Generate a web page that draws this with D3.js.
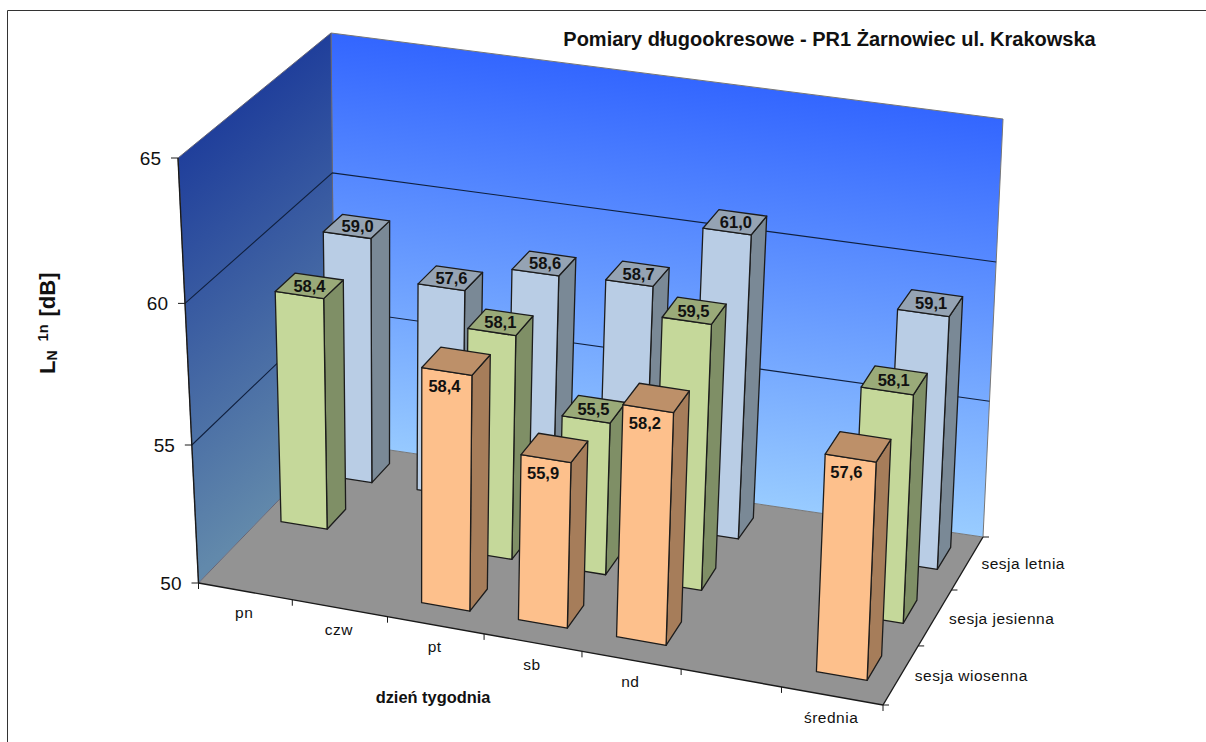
<!DOCTYPE html>
<html lang="pl">
<head>
<meta charset="utf-8">
<script src="https://cdn.jsdelivr.net/npm/d3@7/dist/d3.min.js"></script>
<style>
html,body{margin:0;padding:0;background:#fff}
svg{display:block}
text{font-family:"Liberation Sans",Arial,sans-serif;fill:#111}
</style>
</head>
<body>
<svg id="chart" width="1206" height="742"></svg>
<script>
// Long-term noise levels per weekday and measurement session
const days = ["pn", "czw", "pt", "sb", "nd", "", "średnia"];
const sessions = ["sesja wiosenna", "sesja jesienna", "sesja letnia"];
const springValues = [null, null, 58.4, 55.9, 58.2, null, 57.6];
const autumnValues = [58.4, null, 58.1, 55.5, 59.5, null, 58.1];
const summerValues = [59.0, 57.6, 58.6, 58.7, 61.0, null, 59.1];
const valueTicks = [50, 55, 60, 65];
const titleText = "Pomiary długookresowe - PR1 Żarnowiec ul. Krakowska";
const xTitleText = "dzień tygodnia";

const seriesValues = [springValues, autumnValues, summerValues];
const seriesStyles = [
  {front: "#fdc08c", side: "#a67d5a", top: "#bd9069", labelDx: -12, labelDy: 25, rowShift: -0.006},
  {front: "#c5d89a", side: "#7f8f66", top: "#9aaa79", labelDx: 0, labelDy: 0, rowShift: -0.002},
  {front: "#b9cde5", side: "#7a8996", top: "#95a3b3", labelDx: 1, labelDy: 0, rowShift: 0}
];

// Scene corners on the page: floor and the plane at the top of the value axis
const floorQuad = [[198.5, 583], [883, 705], [983, 537], [335, 442]];
const ceilQuad = [[178, 158], [901, 262], [1003, 119], [331, 33]];

// Homography from the unit square to a quadrilateral
function squareToQuad(q) {
  const [[x0, y0], [x1, y1], [x2, y2], [x3, y3]] = q;
  const dx1 = x1 - x2, dx2 = x3 - x2, sx = x0 - x1 + x2 - x3;
  const dy1 = y1 - y2, dy2 = y3 - y2, sy = y0 - y1 + y2 - y3;
  const d = dx1 * dy2 - dx2 * dy1;
  const g = (sx * dy2 - dx2 * sy) / d;
  const h = (dx1 * sy - sx * dy1) / d;
  const a = x1 - x0 + g * x1, b = x3 - x0 + h * x3;
  const e = y1 - y0 + g * y1, f = y3 - y0 + h * y3;
  return (u, v) => {
    const w = g * u + h * v + 1;
    return [(a * u + b * v + x0) / w, (e * u + f * v + y0) / w];
  };
}
const floorMap = squareToQuad(floorQuad);
const ceilMap = squareToQuad(ceilQuad);

const xBand = d3.scaleBand().domain(d3.range(days.length)).range([0, 1]).paddingInner(0.5).paddingOuter(0.23);
const zBand = d3.scaleBand().domain(d3.range(sessions.length)).range([0.02, 1]).paddingInner(0.58).paddingOuter(0.27);
const xEdge = d3.scaleLinear().domain([0, days.length]).range([0, 1]);
const zEdge = d3.scaleLinear().domain([0, sessions.length]).range([0, 1]);
const yScale = d3.scaleLinear().domain([50, 65]).range([0, 1]);
const depthBlend = d3.scaleLinear().domain([0.2, 0.5]).range([0, 1]).clamp(true);

// Place a (u, v, value) scene point on the page, easing the spacing along
// the weekday axis by depth and foreshortening the value axis a little
function project(u, v, value) {
  const t = yScale(value);
  const f = t / (1 + 0.04 * (1 - t));
  const s = depthBlend(v);
  const w = u + (1 - s) * 0.08 * u * (1 - u) + s * 0.09 * u * (1 - u) * (1 - u);
  const a = floorMap(w, v), b = ceilMap(w, v);
  return [a[0] + (b[0] - a[0]) * f, a[1] + (b[1] - a[1]) * f];
}

const svg = d3.select("#chart");
const poly = pts => "M" + pts.map(p => p[0].toFixed(2) + "," + p[1].toFixed(2)).join("L") + "Z";
const seg = (a, b) => "M" + a[0].toFixed(2) + "," + a[1].toFixed(2) + "L" + b[0].toFixed(2) + "," + b[1].toFixed(2);

// Wall shading
const defs = svg.append("defs");
function gradient(id, p0, p1, c0, c1) {
  const g = defs.append("linearGradient").attr("id", id).attr("gradientUnits", "userSpaceOnUse")
    .attr("x1", p0[0]).attr("y1", p0[1]).attr("x2", p1[0]).attr("y2", p1[1]);
  g.append("stop").attr("offset", 0).attr("stop-color", c0);
  g.append("stop").attr("offset", 1).attr("stop-color", c1);
}
gradient("backWall", [667, 76], [615, 490], "#3366ff", "#99ccff");
gradient("sideWall", [240, 100], [455, 363], "#1f3e9b", "#6289ab");

// Chart frame
svg.append("path").attr("d", "M7.5,742V10.5H1206").attr("fill", "none").attr("stroke", "#333").attr("stroke-width", 1);

const scene = svg.append("g");
const minV = yScale.domain()[0], maxV = yScale.domain()[1];

// Floor and walls
scene.append("path").attr("d", poly([project(0, 0, minV), project(1, 0, minV), project(1, 1, minV), project(0, 1, minV)])).attr("fill", "#939393");
scene.append("path").attr("d", poly([project(0, 1, minV), project(1, 1, minV), project(1, 1, maxV), project(0, 1, maxV)]))
  .attr("fill", "url(#backWall)").attr("stroke", "#777").attr("stroke-width", 1);
scene.append("path").attr("d", poly([project(0, 0, minV), project(0, 1, minV), project(0, 1, maxV), project(0, 0, maxV)]))
  .attr("fill", "url(#sideWall)").attr("stroke", "#667").attr("stroke-width", 1);

// Gridlines along both walls
const inner = valueTicks.filter(v => v > minV && v < maxV);
scene.selectAll(".grid").data(inner).join("path").attr("class", "grid")
  .attr("d", v => "M" + [project(0, 0, v), project(0, 1, v), project(1, 1, v)].map(p => p.join(",")).join("L"))
  .attr("fill", "none").attr("stroke", "#10203f").attr("stroke-width", 1.1);

// Axis lines and ticks
const axis = svg.append("g").attr("fill", "none").attr("stroke", "#1a1a1a").attr("stroke-width", 1.4);
axis.append("path").attr("d", seg(project(0, 0, minV), project(0, 0, maxV)));
axis.append("path").attr("d", seg(project(0, 0, minV), project(1, 0, minV)));
axis.append("path").attr("d", seg(project(1, 0, minV), project(1, 1, minV)));
axis.selectAll(".ytick").data(valueTicks).join("path").attr("class", "ytick")
  .attr("d", v => { const p = project(0, 0, v); return seg([p[0] - 7, p[1]], p); }).attr("stroke-width", 1);
axis.selectAll(".xtick").data(d3.range(days.length + 1)).join("path").attr("class", "xtick")
  .attr("d", i => { const p = project(xEdge(i), 0, minV); return seg(p, [p[0], p[1] + 6]); }).attr("stroke-width", 1);
axis.selectAll(".ztick").data(d3.range(sessions.length + 1)).join("path").attr("class", "ztick")
  .attr("d", i => { const p = project(1, zEdge(i), minV); return seg(p, [p[0] + 6, p[1]]); }).attr("stroke-width", 1);

// Bars, furthest session first and left to right within a session
const bars = svg.append("g").attr("stroke", "#1c1c1c").attr("stroke-width", 1.3).attr("stroke-linejoin", "round");
const labelData = [];
d3.range(sessions.length).reverse().forEach(s => {
  const st = seriesStyles[s];
  const z0 = zBand(s), z1 = z0 + zBand.bandwidth();
  seriesValues[s].forEach((value, i) => {
    if (value == null) return;
    const x0 = xBand(i) + st.rowShift, x1 = x0 + xBand.bandwidth();
    const g = bars.append("g");
    g.append("path").attr("fill", st.side).attr("d", poly([project(x1, z0, minV), project(x1, z1, minV), project(x1, z1, value), project(x1, z0, value)]));
    g.append("path").attr("fill", st.front).attr("d", poly([project(x0, z0, minV), project(x1, z0, minV), project(x1, z0, value), project(x0, z0, value)]));
    g.append("path").attr("fill", st.top).attr("d", poly([project(x0, z0, value), project(x1, z0, value), project(x1, z1, value), project(x0, z1, value)]));
    const c = project((x0 + x1) / 2, (z0 + z1) / 2, value);
    labelData.push({value, x: c[0] + st.labelDx, y: c[1] + st.labelDy});
  });
});

// Value labels with a decimal comma
const fmt = d3.format(".1f");
svg.append("g").selectAll("text").data(labelData).join("text")
  .attr("x", d => d.x).attr("y", d => d.y).attr("dy", "0.36em")
  .attr("text-anchor", "middle").attr("font-weight", "bold").attr("font-size", 16.5)
  .text(d => fmt(d.value).replace(".", ","));

// Tick labels
svg.append("g").selectAll("text").data(valueTicks).join("text")
  .attr("x", v => project(0, 0, v)[0] - 17).attr("y", v => project(0, 0, v)[1])
  .attr("dy", "0.36em").attr("text-anchor", "end").attr("font-size", 19).text(v => v);
svg.append("g").selectAll("text").data(days).join("text")
  .attr("x", (d, i) => project(xEdge(i + 0.5), 0, minV)[0])
  .attr("y", (d, i) => project(xEdge(i + 0.5), 0, minV)[1] + 27)
  .attr("dx", -1)
  .attr("text-anchor", "middle").attr("font-size", 15.5).attr("letter-spacing", 0.5).text(d => d);
svg.append("g").selectAll("text").data(sessions).join("text")
  .attr("x", (d, i) => project(1, zEdge(i + 0.5), minV)[0] + 14)
  .attr("y", (d, i) => project(1, zEdge(i + 0.5), minV)[1] + 1)
  .attr("dy", "0.32em").attr("font-size", 15.5).attr("letter-spacing", 0.5).text(d => d);

// Titles
svg.append("text").attr("x", 829.5).attr("y", 46).attr("text-anchor", "middle")
  .attr("font-weight", "bold").attr("font-size", 20).text(titleText);
svg.append("text").attr("x", 433).attr("y", 703).attr("text-anchor", "middle")
  .attr("font-weight", "bold").attr("font-size", 16.4).text(xTitleText);
const yTitle = svg.append("text").attr("transform", "translate(55,374) rotate(-90)")
  .attr("font-weight", "bold").attr("font-size", 22);
yTitle.append("tspan").text("L");
yTitle.append("tspan").attr("font-size", 14).attr("dy", 2).text("N");
yTitle.append("tspan").attr("font-size", 14.5).attr("dy", -9).attr("dx", 9).text("1n");
yTitle.append("tspan").attr("dy", 7).attr("dx", 8).text("[dB]");
</script>
</body>
</html>
